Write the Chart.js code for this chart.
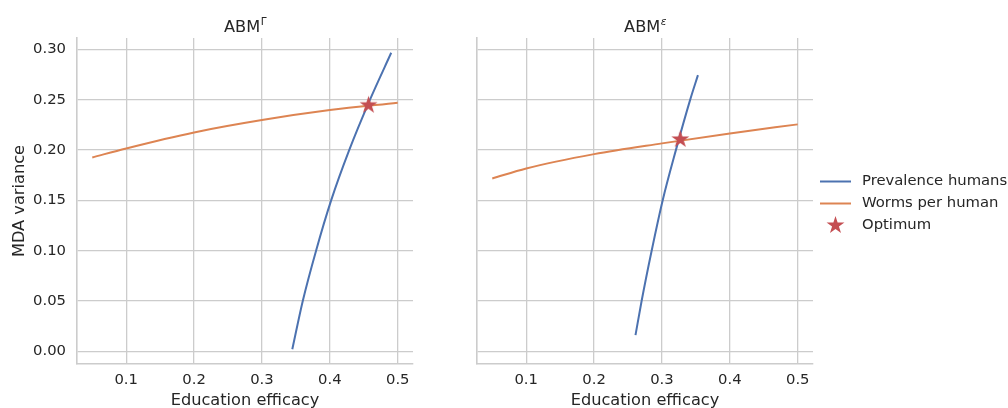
<!DOCTYPE html>
<html>
<head>
<meta charset="utf-8">
<script src="https://cdn.jsdelivr.net/npm/chart.js@4.4.1/dist/chart.umd.min.js"></script>
<style>
  html, body { margin: 0; padding: 0; background: #fff; }
  body { width: 1008px; height: 408px; overflow: hidden; position: relative; }
  .panel { position: absolute; top: 0; height: 408px; }
  #left { left: 0; width: 420px; }
  #right { left: 420px; width: 588px; }
</style>
</head>
<body>
<div class="panel" id="left"><canvas id="cLeft"></canvas></div>
<div class="panel" id="right"><canvas id="cRight"></canvas></div>
<script>
const BLUE = '#4c72b0', ORANGE = '#dd8452', RED = '#c44e52';
const INK = '#262626', GRID = '#cccccc';
const FAMILY = "'DejaVu Sans', sans-serif";
const TICK_SIZE = 14.8;
const LABEL_SIZE = 16.2;

// shared axes
const xTicks = [0.1, 0.2, 0.3, 0.4, 0.5];
const yTicks = [0.00, 0.05, 0.10, 0.15, 0.20, 0.25, 0.30];
const xRange = [0.0275, 0.5225];
const yRange = [-0.0127, 0.3115];

const seriesNames = ['Prevalence humans', 'Worms per human', 'Optimum'];

// ABM^Gamma panel
const gPrevEff = [0.3447, 0.3601, 0.3797, 0.4019, 0.4285, 0.4590, 0.4904];
const gPrevVar = [0.002, 0.050, 0.100, 0.150, 0.200, 0.250, 0.2968];
const gWormEff = [0.05, 0.10, 0.20, 0.30, 0.40, 0.50];
const gWormVar = [0.1927, 0.2017, 0.2176, 0.2299, 0.2398, 0.2471];
const gOptEff = [0.457];
const gOptVar = [0.2446];

// ABM^epsilon panel
const ePrevEff = [0.261, 0.270, 0.2848, 0.301, 0.3205, 0.3415, 0.3530];
const ePrevVar = [0.016, 0.050, 0.100, 0.150, 0.200, 0.250, 0.2746];
const eWormEff = [0.05, 0.10, 0.20, 0.30, 0.40, 0.50];
const eWormVar = [0.1718, 0.1818, 0.1960, 0.2067, 0.2166, 0.2256];
const eOptEff = [0.327];
const eOptVar = [0.2106];

const zipXY = (xs, ys) => xs.map((x, i) => ({ x, y: ys[i] }));

function makeStar(r) {
  const c = document.createElement('canvas');
  const s = Math.ceil(2 * r + 2);
  c.width = c.height = s;
  const ctx = c.getContext('2d');
  ctx.translate(s / 2, s / 2);
  ctx.beginPath();
  for (let k = 0; k < 10; k++) {
    const rad = k % 2 === 0 ? r : r * 0.382;
    const a = -Math.PI / 2 + k * Math.PI / 5;
    ctx.lineTo(rad * Math.cos(a), rad * Math.sin(a));
  }
  ctx.closePath();
  ctx.fillStyle = RED;
  ctx.fill();
  return c;
}
const starImg = makeStar(9.4);

// title with a superscript, centred over the plot area
const titlePlugin = {
  id: 'supTitle',
  afterDraw(chart, args, opts) {
    const { ctx, chartArea } = chart;
    ctx.save();
    ctx.fillStyle = INK;
    ctx.textBaseline = 'alphabetic';
    ctx.font = `${LABEL_SIZE}px ${FAMILY}`;
    const w1 = ctx.measureText(opts.base).width;
    const supFont = `${opts.italic ? 'italic ' : ''}10.5px ${FAMILY}`;
    ctx.font = supFont;
    const w2 = ctx.measureText(opts.sup).width;
    const x0 = (chartArea.left + chartArea.right) / 2 - (w1 + w2) / 2;
    ctx.font = `${LABEL_SIZE}px ${FAMILY}`;
    ctx.fillText(opts.base, x0, 31.5);
    ctx.font = supFont;
    ctx.fillText(opts.sup, x0 + w1 + 0.5, 25);
    ctx.restore();
  }
};

// legend to the right of the second panel
const legendPlugin = {
  id: 'sideLegend',
  afterDraw(chart) {
    const { ctx, chartArea } = chart;
    const x = chartArea.right + 7;
    ctx.save();
    ctx.font = `${TICK_SIZE}px ${FAMILY}`;
    ctx.textBaseline = 'middle';
    chart.data.datasets.forEach((ds, i) => {
      const y = 181.5 + i * 22;
      if (ds.type === 'scatter') {
        ctx.drawImage(starImg, x + 15.5 - starImg.width / 2, y - starImg.height / 2);
      } else {
        ctx.strokeStyle = ds.borderColor;
        ctx.lineWidth = ds.borderWidth;
        ctx.beginPath();
        ctx.moveTo(x, y);
        ctx.lineTo(x + 31, y);
        ctx.stroke();
      }
      ctx.fillStyle = INK;
      ctx.fillText(ds.label, x + 42, y);
    });
    ctx.restore();
  }
};

function panelConfig(p) {
  return {
    type: 'line',
    data: {
      datasets: [
        {
          type: 'line',
          label: seriesNames[0],
          data: zipXY(p.prevEff, p.prevVar),
          borderColor: BLUE,
          borderWidth: 2,
          pointRadius: 0,
          cubicInterpolationMode: 'monotone',
          order: 3
        },
        {
          type: 'line',
          label: seriesNames[1],
          data: zipXY(p.wormEff, p.wormVar),
          borderColor: ORANGE,
          borderWidth: 2,
          pointRadius: 0,
          cubicInterpolationMode: 'monotone',
          order: 2
        },
        {
          type: 'scatter',
          label: seriesNames[2],
          data: zipXY(p.optEff, p.optVar),
          pointStyle: starImg,
          backgroundColor: RED,
          borderColor: RED,
          order: 1
        }
      ]
    },
    options: {
      responsive: true,
      maintainAspectRatio: false,
      animation: false,
      events: [],
      layout: { padding: { top: 38, right: p.padRight, left: 0, bottom: 0 } },
      plugins: {
        legend: { display: false },
        tooltip: { enabled: false },
        supTitle: { base: 'ABM', sup: p.sup, italic: p.italic }
      },
      scales: {
        x: {
          type: 'linear',
          min: xRange[0],
          max: xRange[1],
          afterBuildTicks: s => { s.ticks = xTicks.map(v => ({ value: v })); },
          afterFit: s => { s.height = 44; },
          grid: { color: GRID, lineWidth: 1.3, drawTicks: false },
          border: { color: GRID, width: 1.6 },
          ticks: {
            color: INK,
            font: { family: FAMILY, size: TICK_SIZE },
            padding: 7,
            maxRotation: 0,
            autoSkip: false,
            callback: v => v.toFixed(1)
          },
          title: {
            display: true,
            text: 'Education efficacy',
            color: INK,
            font: { family: FAMILY, size: LABEL_SIZE },
            padding: { top: 0, bottom: -3 }
          }
        },
        y: {
          type: 'linear',
          min: yRange[0],
          max: yRange[1],
          afterBuildTicks: s => { s.ticks = yTicks.map(v => ({ value: v })); },
          afterFit: s => { s.width = p.showY ? 77 : 57; },
          grid: { color: GRID, lineWidth: 1.3, drawTicks: false },
          border: { color: GRID, width: 1.6 },
          ticks: {
            display: p.showY,
            color: INK,
            font: { family: FAMILY, size: TICK_SIZE },
            padding: 11,
            callback: v => v.toFixed(2)
          },
          title: {
            display: p.showY,
            text: 'MDA variance',
            color: INK,
            font: { family: FAMILY, size: LABEL_SIZE },
            padding: { top: 10.2, bottom: 0 }
          }
        }
      }
    },
    plugins: p.legend ? [titlePlugin, legendPlugin] : [titlePlugin]
  };
}

new Chart(document.getElementById('cLeft'), panelConfig({
  prevEff: gPrevEff, prevVar: gPrevVar,
  wormEff: gWormEff, wormVar: gWormVar,
  optEff: gOptEff, optVar: gOptVar,
  sup: 'Γ', italic: false, showY: true, padRight: 7, legend: false
}));

new Chart(document.getElementById('cRight'), panelConfig({
  prevEff: ePrevEff, prevVar: ePrevVar,
  wormEff: eWormEff, wormVar: eWormVar,
  optEff: eOptEff, optVar: eOptVar,
  sup: 'ε', italic: true, showY: false, padRight: 195, legend: true
}));
</script>
</body>
</html>
